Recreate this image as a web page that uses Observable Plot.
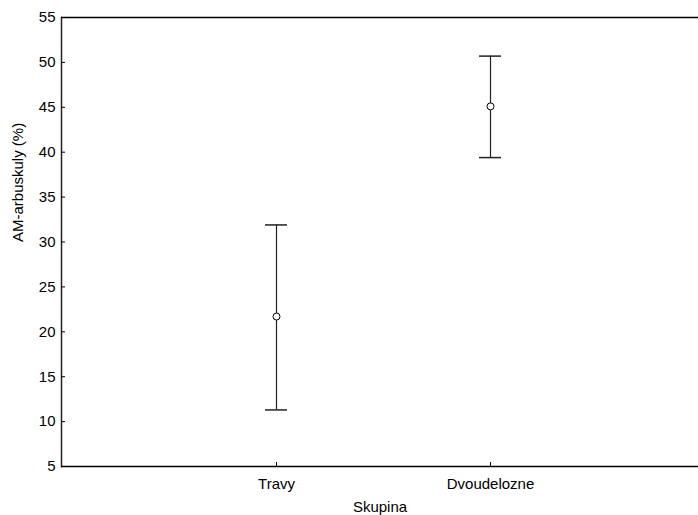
<!DOCTYPE html>
<html>
<head>
<meta charset="utf-8">
<script src="https://cdn.jsdelivr.net/npm/d3@7"></script>
<script src="https://cdn.jsdelivr.net/npm/@observablehq/plot@0.6"></script>
<style>
  html, body { margin: 0; padding: 0; background: #fff; overflow: hidden; }
  #chart svg { display: block; }
</style>
</head>
<body>
<div id="chart"></div>
<script>
const groups = ["Travy", "Dvoudelozne"];
const means = [21.7, 45.1];
const lower = [11.3, 39.4];
const upper = [31.9, 50.7];
const yTicks = [5, 10, 15, 20, 25, 30, 35, 40, 45, 50, 55];
const xLabel = "Skupina";
const yLabel = "AM-arbuskuly (%)";

const data = groups.map((g, i) => ({group: g, mean: means[i], lo: lower[i], hi: upper[i]}));

const W = 698, H = 515;
const mL = 61, mT = 17, mB = 49;
const fontFam = "Arial, 'Liberation Sans', sans-serif";

const chart = Plot.plot({
  width: W,
  height: H,
  marginLeft: mL,
  marginRight: 0,
  marginTop: mT,
  marginBottom: mB,
  style: {fontFamily: fontFam, fontSize: "15px", color: "#000", background: "#fff"},
  x: {type: "band", domain: groups, range: [mL, 705], paddingInner: 0.8975, paddingOuter: 0.94875},
  y: {domain: [5, 55], range: [H - mB, mT]},
  marks: [
    Plot.ruleY([5, 55], {stroke: "#000", strokeWidth: 1.5}),
    Plot.frame({anchor: "left", stroke: "#222", strokeWidth: 1.5}),
    Plot.axisY({ticks: yTicks, tickSize: -4, tickPadding: 10, stroke: "#000", fontSize: 15, label: null}),
    Plot.axisX({tickSize: -4, tickPadding: 16, stroke: "#000", fontSize: 15, label: null}),
    Plot.text([yLabel], {frameAnchor: "left", dx: -43, rotate: -90, fontSize: 15, fill: "#000"}),
    Plot.text([xLabel], {frameAnchor: "bottom", dy: 35, fontSize: 15, fill: "#000", lineAnchor: "top"}),
    Plot.ruleX(data, {x: "group", y1: "lo", y2: "hi", stroke: "#222", strokeWidth: 1.2}),
    Plot.tickY(data, {x: "group", y: "lo", stroke: "#222", strokeWidth: 1.5}),
    Plot.tickY(data, {x: "group", y: "hi", stroke: "#222", strokeWidth: 1.5}),
    Plot.dot(data, {x: "group", y: "mean", r: 3.5, fill: "#fff", stroke: "#000", strokeWidth: 1})
  ]
});
document.getElementById("chart").appendChild(chart);
</script>
</body>
</html>
